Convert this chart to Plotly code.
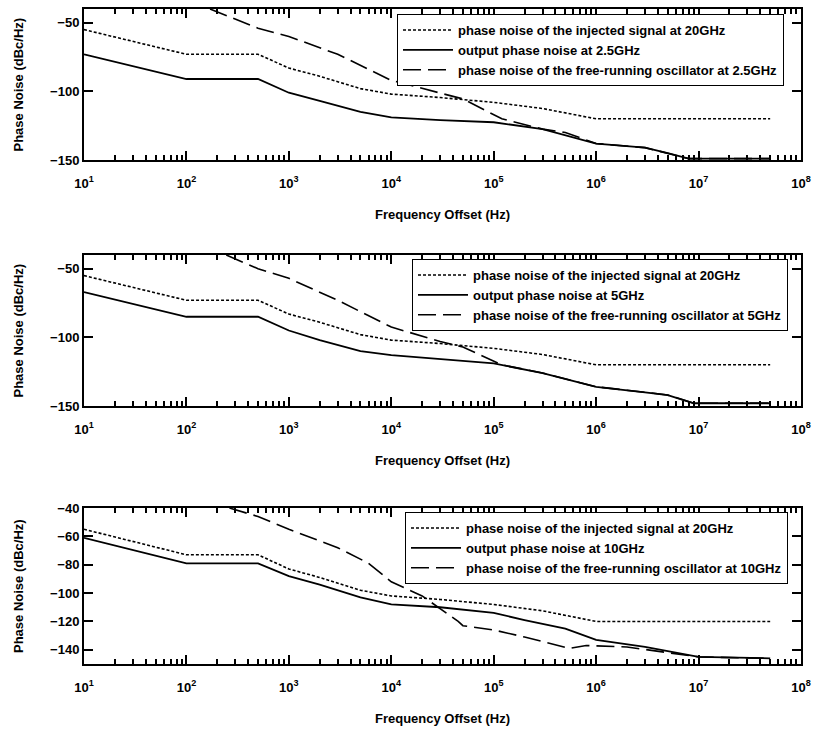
import plotly.graph_objects as go

# ---------------- data ----------------
# injected signal at 20 GHz (same in every panel)
f_inj = [10, 100, 500, 1e3, 2e3, 5e3, 1e4, 3e4, 1e5, 3e5, 1e6, 5e7]
pn_inj = [-55, -73, -73, -83, -89, -98, -102, -104.5, -108, -112.5, -120, -120]

# 2.5 GHz
f_out_25 = [10, 100, 500, 1e3, 2e3, 5e3, 1e4, 3e4, 1e5, 3e5, 1e6, 3e6, 5e6, 8e6, 5e7]
pn_out_25 = [-73, -91, -91, -101, -107, -115, -119, -121, -122.5, -127.5, -138, -141, -145, -149, -149]
f_fr_25 = [170, 500, 1e3, 3e3, 1e4, 3e4, 5e4, 1.2e5, 3e5, 5e5, 1e6, 3e6, 5e6, 8e6, 5e7]
pn_fr_25 = [-40, -54, -60, -73, -92, -101.5, -105.5, -120, -127.5, -130, -138, -141, -145, -149, -149]

# 5 GHz
f_out_5 = [10, 100, 500, 1e3, 2e3, 5e3, 1e4, 3e4, 1e5, 3e5, 1e6, 3e6, 5e6, 9e6, 5e7]
pn_out_5 = [-67, -85, -85, -95, -102, -110, -113, -116, -119, -126, -136, -140, -142, -148, -148]
f_fr_5 = [245, 500, 1e3, 3e3, 1e4, 3e4, 5e4, 1.2e5, 3e5, 1e6, 3e6, 5e6, 9e6, 5e7]
pn_fr_5 = [-40, -50, -57, -73, -92.5, -103, -107, -120, -126, -136, -140, -142, -148, -148]

# 10 GHz
f_out_10 = [10, 100, 500, 1e3, 2e3, 5e3, 1e4, 3e4, 1e5, 2e5, 5e5, 1e6, 3e6, 1e7, 5e7]
pn_out_10 = [-61, -79, -79, -88, -94, -103, -108, -110, -114, -119, -125, -133, -138, -145, -146]
f_fr_10 = [263, 500, 1e3, 3e3, 6e3, 1e4, 2e4, 4.5e4, 5e4, 1e5, 2e5, 5.5e5, 8e5, 2e6, 5e6, 1e7, 5e7]
pn_fr_10 = [-40, -46, -55, -68, -79, -92, -102, -120, -123, -126, -131, -139, -137, -138, -142, -145, -146]

carriers = ["2.5GHz", "5GHz", "10GHz"]
x_exponents = [1, 2, 3, 4, 5, 6, 7, 8]
y_ticks_a = [-150, -100, -50]
y_ticks_b = [-140, -120, -100, -80, -60, -40]

panels = [
    (carriers[0], f_out_25, pn_out_25, f_fr_25, pn_fr_25, y_ticks_a),
    (carriers[1], f_out_5, pn_out_5, f_fr_5, pn_fr_5, y_ticks_a),
    (carriers[2], f_out_10, pn_out_10, f_fr_10, pn_fr_10, y_ticks_b),
]

# ---------------- layout geometry (pixels) ----------------
W, H = 813, 732
FONT = "Liberation Sans, Arial, sans-serif"
x_left, x_right = 84, 801
rows = [(9, 160), (255, 406), (508, 664)]           # top, bottom of each plot area
legend_boxes = [(784, 14), (788, 259), (788, 512)]  # right edge, top edge

fig = go.Figure()
layout = dict(
    template="none",
    width=W, height=H,
    margin=dict(l=0, r=0, t=0, b=0),
    paper_bgcolor="white", plot_bgcolor="white",
    font=dict(family=FONT, size=13, color="black", weight="bold"),
    showlegend=True,
    annotations=[],
)

for i, (car, fo, po, ff, pf, yt) in enumerate(panels):
    n = "" if i == 0 else str(i + 1)
    xa, ya, lg = "x" + n, "y" + n, "legend" + n
    fig.add_trace(go.Scatter(
        x=f_inj, y=pn_inj, mode="lines", xaxis=xa, yaxis=ya, legend=lg,
        name="phase noise of the injected signal at 20GHz",
        line=dict(color="black", width=1.6, dash="3px,2px")))
    fig.add_trace(go.Scatter(
        x=fo, y=po, mode="lines", xaxis=xa, yaxis=ya, legend=lg,
        name="output phase noise at " + car,
        line=dict(color="black", width=1.8)))
    fig.add_trace(go.Scatter(
        x=ff, y=pf, mode="lines", xaxis=xa, yaxis=ya, legend=lg,
        name="phase noise of the free-running oscillator at " + car,
        line=dict(color="black", width=1.6, dash="18px,7px")))

    top, bot = rows[i]
    ydom = [1 - bot / H, 1 - top / H]
    layout["xaxis" + n] = dict(
        type="log", range=[1, 8], domain=[x_left / W, x_right / W], anchor=ya,
        showline=True, linecolor="black", linewidth=2, mirror="ticks",
        showgrid=False, zeroline=False,
        tickmode="array", ticks="inside", ticklen=9, tickwidth=2, tickcolor="black",
        tickvals=[10 ** k for k in x_exponents],
        ticktext=["10<sup>%d</sup>" % k for k in x_exponents],
        tickfont=dict(family=FONT, size=13, weight="bold"),
        ticklabelstandoff=10,
        minor=dict(ticks="inside", ticklen=5, tickwidth=1.5, tickcolor="black",
                   showgrid=False, tickmode="array",
                   tickvals=[m * 10 ** k for k in x_exponents[:-1] for m in range(2, 10)]),
        automargin=False,
    )
    layout["yaxis" + n] = dict(
        range=[-150, -40], domain=ydom, anchor=xa,
        showline=True, linecolor="black", linewidth=2, mirror="ticks",
        showgrid=False, zeroline=False,
        tickmode="array", ticks="inside", ticklen=9, tickwidth=2, tickcolor="black",
        tickvals=yt, tickfont=dict(family=FONT, size=13, weight="bold"),
        automargin=False,
    )
    rx, ty = legend_boxes[i]
    layout[lg] = dict(
        x=rx / W, y=1 - ty / H, xanchor="right", yanchor="top",
        bgcolor="white", bordercolor="black", borderwidth=1,
        font=dict(family=FONT, size=13, weight="bold"),
        tracegroupgap=0, itemwidth=50,
    )
    layout["annotations"].append(dict(
        text="Phase Noise (dBc/Hz)", textangle=-90, showarrow=False,
        xref="paper", yref="paper", x=18 / W, y=1 - (top + bot) / 2 / H,
        xanchor="center", yanchor="middle",
        font=dict(family=FONT, size=13, weight="bold")))
    layout["annotations"].append(dict(
        text="Frequency Offset (Hz)", showarrow=False,
        xref="paper", yref="paper", x=(x_left + x_right) / 2 / W, y=1 - (bot + 54) / H,
        xanchor="center", yanchor="middle",
        font=dict(family=FONT, size=13, weight="bold")))

fig.update_layout(**layout)
fig.write_html("out.html")
